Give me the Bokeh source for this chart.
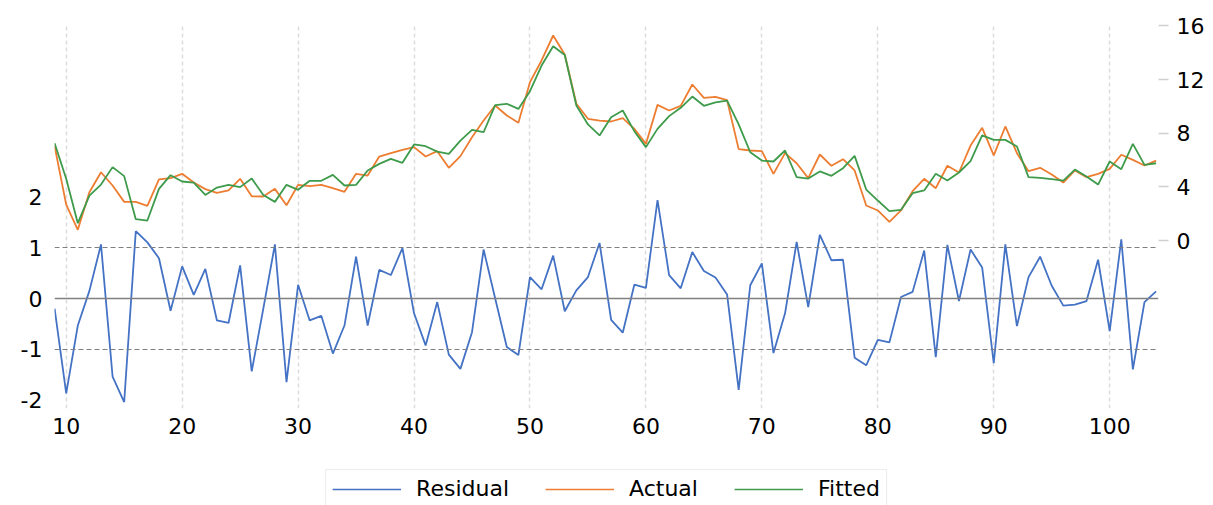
from bokeh.plotting import figure
from bokeh.layouts import column
from bokeh.models import (Range1d, LinearAxis, FixedTicker, Span, Legend, LegendItem,
                          CustomJSTickFormatter)
from bokeh.embed import file_html
from bokeh.resources import INLINE

obs = list(range(9, 105))
residual = [-0.20, -1.86, -0.53, 0.15, 1.06, -1.53, -2.03, 1.32, 1.10, 0.79,
            -0.24, 0.63, 0.07, 0.58, -0.43, -0.48, 0.65, -1.43, -0.20, 1.06,
            -1.64, 0.27, -0.43, -0.34, -1.08, -0.53, 0.82, -0.53, 0.56, 0.46,
            0.99, -0.29, -0.92, -0.07, -1.10, -1.38, -0.66, 0.96, 0.00, -0.95,
            -1.11, 0.42, 0.18, 0.84, -0.25, 0.16, 0.42, 1.09, -0.42, -0.67,
            0.27, 0.21, 1.93, 0.46, 0.20, 0.91, 0.54, 0.41, 0.08, -1.79,
            0.26, 0.69, -1.07, -0.29, 1.11, -0.17, 1.25, 0.75, 0.76, -1.16,
            -1.31, -0.81, -0.86, 0.03, 0.13, 0.94, -1.15, 1.05, -0.05, 0.96,
            0.61, -1.27, 1.06, -0.54, 0.42, 0.82, 0.25, -0.14, -0.12, -0.05,
            0.76, -0.64, 1.16, -1.39, -0.07, 0.14]
actual = [7.03, 2.68, 0.80, 3.60, 5.09, 4.10, 2.88, 2.88, 2.58, 4.55,
          4.65, 4.97, 4.32, 3.83, 3.55, 3.73, 4.60, 3.30, 3.28, 3.85,
          2.63, 4.15, 4.05, 4.15, 3.90, 3.63, 4.97, 4.84, 6.26, 6.51,
          6.76, 6.96, 6.26, 6.66, 5.42, 6.29, 7.70, 8.94, 10.06, 9.32,
          8.77, 11.80, 13.42, 15.28, 13.86, 10.19, 9.07, 8.94, 8.87, 9.12,
          8.32, 7.20, 10.11, 9.69, 10.04, 11.63, 10.63, 10.71, 10.46, 6.81,
          6.71, 6.66, 4.97, 6.51, 5.76, 4.65, 6.41, 5.57, 6.06, 5.22,
          2.61, 2.24, 1.39, 2.24, 3.68, 4.60, 3.90, 5.57, 5.07, 7.08,
          8.40, 6.34, 8.50, 6.51, 5.17, 5.42, 4.92, 4.32, 5.22, 4.72,
          4.97, 5.34, 6.39, 6.01, 5.59, 5.96]
fitted = [7.25, 4.60, 1.29, 3.35, 4.17, 5.47, 4.80, 1.59, 1.49, 3.85,
          4.87, 4.40, 4.32, 3.40, 3.95, 4.15, 3.98, 4.62, 3.40, 2.88,
          4.15, 3.78, 4.45, 4.45, 4.89, 4.10, 4.15, 5.22, 5.71, 6.09,
          5.79, 7.16, 7.03, 6.63, 6.46, 7.45, 8.25, 8.07, 10.09, 10.19,
          9.81, 11.13, 13.04, 14.48, 13.83, 10.06, 8.65, 7.83, 9.19, 9.69,
          8.15, 6.96, 8.32, 9.27, 9.89, 10.73, 10.04, 10.29, 10.43, 8.65,
          6.58, 5.96, 5.89, 6.71, 4.72, 4.62, 5.15, 4.82, 5.39, 6.31,
          3.80, 2.98, 2.19, 2.29, 3.53, 3.73, 4.97, 4.47, 5.07, 5.91,
          7.83, 7.50, 7.50, 7.01, 4.72, 4.67, 4.57, 4.47, 5.29, 4.77,
          4.17, 5.89, 5.32, 7.20, 5.64, 5.76]

x_ticks = [10, 20, 30, 40, 50, 60, 70, 80, 90, 100]
left_ticks = [-2, -1, 0, 1, 2]
right_ticks = [0, 4, 8, 12, 16]
series_names = ["Residual", "Actual", "Fitted"]

C_RES = "#4472C4"
C_ACT = "#ED7D31"
C_FIT = "#3E9B4B"
FONT = "DejaVu Sans"
FS = "22px"

W = 1213
p = figure(width=W, height=452, output_backend="svg", toolbar_location=None,
           x_range=Range1d(8.99, 104.21), y_range=Range1d(-2.157, 5.373),
           min_border_left=54, min_border_right=55, min_border_top=24,
           min_border_bottom=44)
p.extra_y_ranges = {"right": Range1d(-12.52, 16.1)}
p.outline_line_color = None
p.background_fill_color = "white"
p.border_fill_color = "white"

# x axis
p.xaxis.ticker = FixedTicker(ticks=x_ticks)
p.xaxis.axis_line_color = None
p.xaxis.major_tick_line_color = None
p.xaxis.minor_tick_line_color = None
p.xaxis.major_tick_out = 0
p.xaxis.major_tick_in = 0
p.xaxis.major_label_text_font = FONT
p.xaxis.major_label_text_font_size = FS
p.xaxis.major_label_text_color = "black"
p.xaxis.major_label_standoff = 9

# left axis
p.yaxis.ticker = FixedTicker(ticks=left_ticks)
p.yaxis.formatter = CustomJSTickFormatter(code="return String(tick);")
p.yaxis.axis_line_color = None
p.yaxis.major_tick_line_color = None
p.yaxis.minor_tick_line_color = None
p.yaxis.major_tick_out = 0
p.yaxis.major_tick_in = 0
p.yaxis.major_label_text_font = FONT
p.yaxis.major_label_text_font_size = FS
p.yaxis.major_label_text_color = "black"
p.yaxis.major_label_standoff = 12

# right axis
ra = LinearAxis(y_range_name="right", ticker=FixedTicker(ticks=right_ticks))
ra.axis_line_color = None
ra.major_tick_line_color = "#d0d0d0"
ra.major_tick_line_width = 1.5
ra.major_tick_out = 10
ra.major_tick_in = 0
ra.minor_tick_line_color = None
ra.major_label_text_font = FONT
ra.major_label_text_font_size = FS
ra.major_label_text_color = "black"
ra.major_label_standoff = 8
p.add_layout(ra, "right")

# grids
p.xgrid.ticker = FixedTicker(ticks=x_ticks)
p.xgrid.grid_line_color = "#dcdcdc"
p.xgrid.grid_line_dash = "4 3"
p.xgrid.grid_line_width = 1.5
p.ygrid.grid_line_color = None

p.add_layout(Span(location=0, dimension="width", line_color="#808080", line_width=1.5))
for v in (1, -1):
    p.add_layout(Span(location=v, dimension="width", line_color="#808080",
                      line_width=1, line_dash="5 3"))

p.line(obs, residual, line_color=C_RES, line_width=1.8)
p.line(obs, actual, y_range_name="right", line_color=C_ACT, line_width=1.8)
p.line(obs, fitted, y_range_name="right", line_color=C_FIT, line_width=1.8)

# legend strip below the chart (proxy lines lie outside its visible range)
p2 = figure(width=W, height=53, output_backend="svg", toolbar_location=None,
            x_range=Range1d(0, 1), y_range=Range1d(0, 1),
            x_axis_type=None, y_axis_type=None, min_border=0)
p2.outline_line_color = None
p2.xgrid.grid_line_color = None
p2.ygrid.grid_line_color = None
p2.background_fill_color = "white"
p2.border_fill_color = "white"
d1 = p2.line([5, 6], [5, 6], line_color=C_RES, line_width=1.3)
d2 = p2.line([5, 6], [5, 6], line_color=C_ACT, line_width=1.3)
d3 = p2.line([5, 6], [5, 6], line_color=C_FIT, line_width=1.3)

legend = Legend(items=[LegendItem(label=series_names[0], renderers=[d1]),
                       LegendItem(label=series_names[1], renderers=[d2]),
                       LegendItem(label=series_names[2], renderers=[d3])],
                orientation="horizontal", location="top_center",
                label_text_font=FONT, label_text_font_size=FS,
                label_text_color="black",
                glyph_width=69, glyph_height=20, label_height=20,
                label_standoff=15, spacing=36, padding=6, margin=17,
                border_line_color="#d9d9d9", border_line_width=1,
                background_fill_color="white", background_fill_alpha=1)
p2.add_layout(legend)

layout = column(p, p2, spacing=0)
open("out.html", "w").write(file_html(layout, INLINE))
